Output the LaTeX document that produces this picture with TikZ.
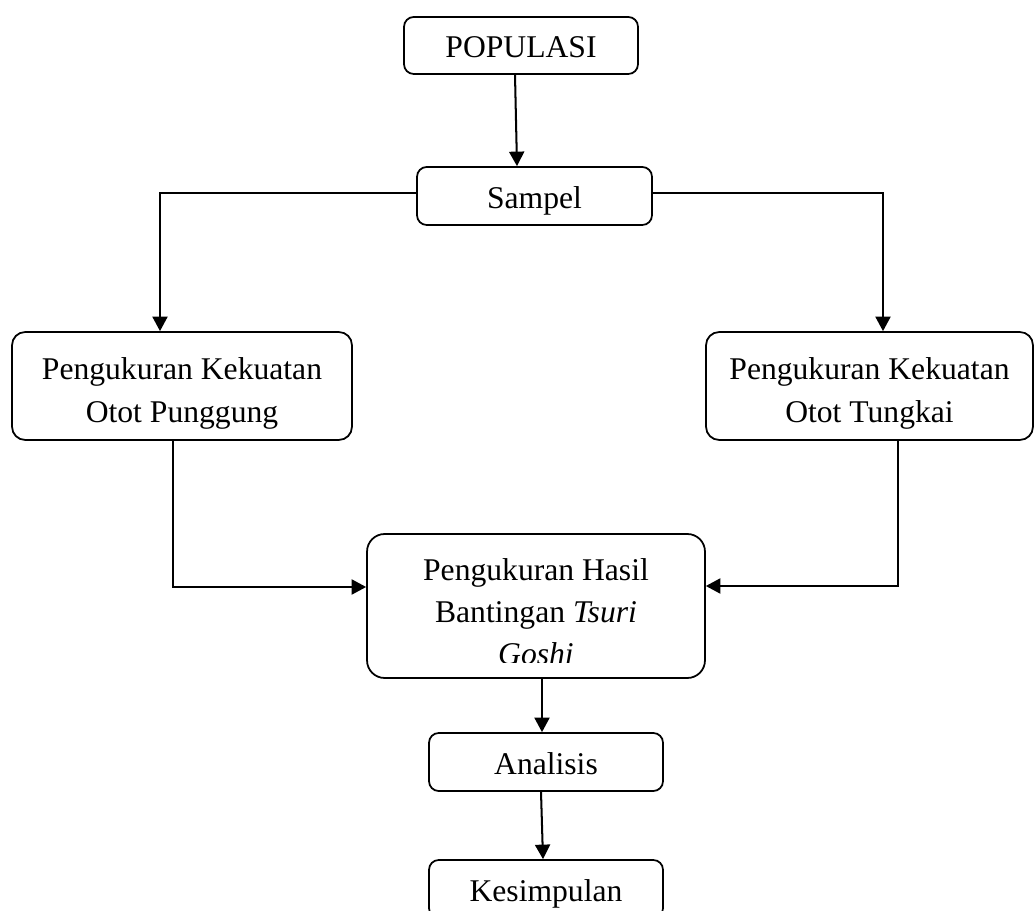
\documentclass[tikz,border=0pt]{standalone}
\usepackage{fontspec}
\setmainfont{Liberation Serif}
\usetikzlibrary{arrows.meta}

\begin{document}
\begin{tikzpicture}[x=0.02cm,y=-0.02cm,
  font=\fontsize{18}{24}\selectfont,
  kotak/.style={draw,line width=1pt,rounded corners=5.5pt,inner sep=0pt},
  satu/.style={kotak,minimum width=4.68cm,minimum height=1.16cm,text height=14.2pt,text depth=0pt},
  dua/.style={kotak,rounded corners=7.5pt,align=center,minimum height=2.16cm},
  panah/.style={line width=1.15pt,-{Triangle[length=0.29cm,width=0.3cm]}}]
\useasboundingbox (0,0) rectangle (1034,911);
\node[satu,minimum height=1.14cm] (populasi) at (521,45.5) {POPULASI};
\node[satu,minimum width=4.70cm] (sampel) at (534.5,196) {Sampel};
\node[dua,minimum width=6.80cm] (punggung) at (182,386) {\rule{0pt}{21pt}Pengukuran Kekuatan\\Otot Punggung};
\node[dua,minimum width=6.54cm] (tungkai) at (869.5,386) {\rule{0pt}{21pt}Pengukuran Kekuatan\\Otot Tungkai};
\node[kotak,rounded corners=10pt,minimum width=6.76cm,minimum height=2.88cm] (hasil) at (536,606) {};
\begin{scope}
\clip (367,534) rectangle (705,662);
\node[align=center,inner sep=0pt] (hasilteks) at (536,612) {Pengukuran Hasil\\Bantingan \textit{Tsuri}\\\textit{Goshi}};
\end{scope}
\node[satu] (analisis) at (546,762) {Analisis};
\node[satu] (kesimpulan) at (546,889) {Kesimpulan};
\draw[panah] (populasi.south -| 515,0) -- (sampel.north -| 517,0);
\draw[panah] (sampel.west |- 0,193) -| (punggung.north -| 160,0);
\draw[panah] (sampel.east |- 0,193) -| (tungkai.north -| 883,0);
\draw[panah] (punggung.south -| 173,0) |- (hasil.west |- 0,587);
\draw[panah] (tungkai.south -| 898,0) |- (hasil.east |- 0,586);
\draw[panah] (hasil.south -| 542,0) -- (analisis.north -| 542,0);
\draw[panah] (analisis.south -| 541,0) -- (kesimpulan.north -| 543,0);
\end{tikzpicture}
\end{document}
